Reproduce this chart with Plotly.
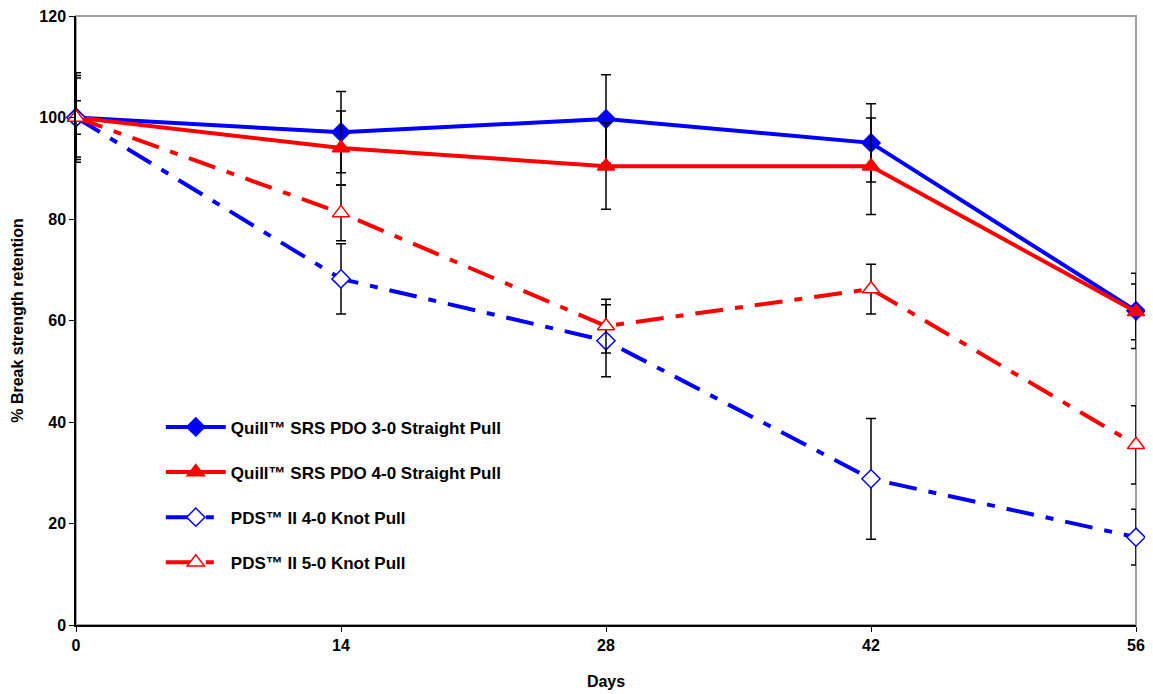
import plotly.graph_objects as go

days = [0, 14, 28, 42, 56]

names = [
    "Quill™ SRS PDO 3-0 Straight Pull",
    "Quill™ SRS PDO 4-0 Straight Pull",
    "PDS™ II 4-0 Knot Pull",
    "PDS™ II 5-0 Knot Pull",
]

quill_3_0 = [100.0, 97.1, 99.7, 95.0, 61.9]
quill_3_0_err = [8.8, 8.0, 8.7, 7.7, 7.4]

quill_4_0 = [100.0, 94.0, 90.4, 90.4, 61.7]
quill_4_0_err = [8.3, 7.3, 8.5, 9.5, 5.5]

pds_4_0 = [100.0, 68.2, 56.0, 28.8, 17.3]
pds_4_0_err = [3.3, 6.9, 7.1, 11.9, 5.5]

pds_5_0 = [100.0, 81.2, 58.9, 66.2, 35.5]
pds_5_0_err = [7.8, 5.5, 5.3, 4.9, 7.7]

BLUE = "#0000FF"
RED = "#FF0000"
FONT = "Arial, 'Liberation Sans', sans-serif"
DASHDOT = "28px,12px,8px,12px"

series = [
    (names[0], quill_3_0, quill_3_0_err, BLUE, "solid", "diamond", BLUE, 14),
    (names[1], quill_4_0, quill_4_0_err, RED, "solid", "triangle-up", RED, 15),
    (names[2], pds_4_0, pds_4_0_err, BLUE, DASHDOT, "diamond", "white", 14),
    (names[3], pds_5_0, pds_5_0_err, RED, DASHDOT, "triangle-up", "white", 15),
]

fig = go.Figure()
for i, (nm, y, err, col, dash, sym, fill, size) in enumerate(series):
    fig.add_trace(go.Scatter(
        x=days, y=y, name=nm, mode="lines+markers",
        line=dict(color=col, width=4, dash=dash),
        marker=dict(symbol=sym, size=size, color=fill,
                    line=dict(color=col, width=1.5)),
        error_y=dict(type="data", array=err, visible=True,
                     color="black", thickness=1.5, width=5),
        cliponaxis=False,
        legendgroup=f"g{i}",
    ))

fig.add_shape(type="rect", xref="paper", yref="paper", x0=0, y0=0, x1=1, y1=1,
              line=dict(color="#A0A0A0", width=2), layer="below")

fig.update_layout(
    width=1145, height=686,
    margin=dict(l=68, r=17, t=8, b=69, autoexpand=False),
    paper_bgcolor="white", plot_bgcolor="white",
    font=dict(family=FONT, size=16, color="black"),
    showlegend=True,
    legend=dict(x=0.08, y=0.354, xanchor="left", yanchor="top",
                bgcolor="rgba(0,0,0,0)", tracegroupgap=20,
                font=dict(family=FONT, size=17, color="black", weight="bold"),
                itemwidth=60),
    xaxis=dict(range=[0, 56], tickvals=days, ticktext=[str(d) for d in days],
               showgrid=False, zeroline=False, showline=True,
               linecolor="black", linewidth=1.5, ticks="outside",
               ticklen=5, tickcolor="black", ticklabeloverflow="allow",
               automargin=False,
               tickfont=dict(family=FONT, size=16, weight="bold"),
               title=dict(text="<b>Days</b>", font=dict(family=FONT, size=16),
                          standoff=23)),
    yaxis=dict(range=[0, 120], dtick=20, showgrid=False, zeroline=False,
               showline=True, linecolor="black", linewidth=1.5,
               ticks="outside", ticklen=5, tickcolor="black",
               ticklabeloverflow="allow", automargin=False,
               tickfont=dict(family=FONT, size=16, weight="bold"),
               title=dict(text="<b>% Break strength retention</b>",
                          font=dict(family=FONT, size=16), standoff=12)),
)

fig.write_html("out.html")
